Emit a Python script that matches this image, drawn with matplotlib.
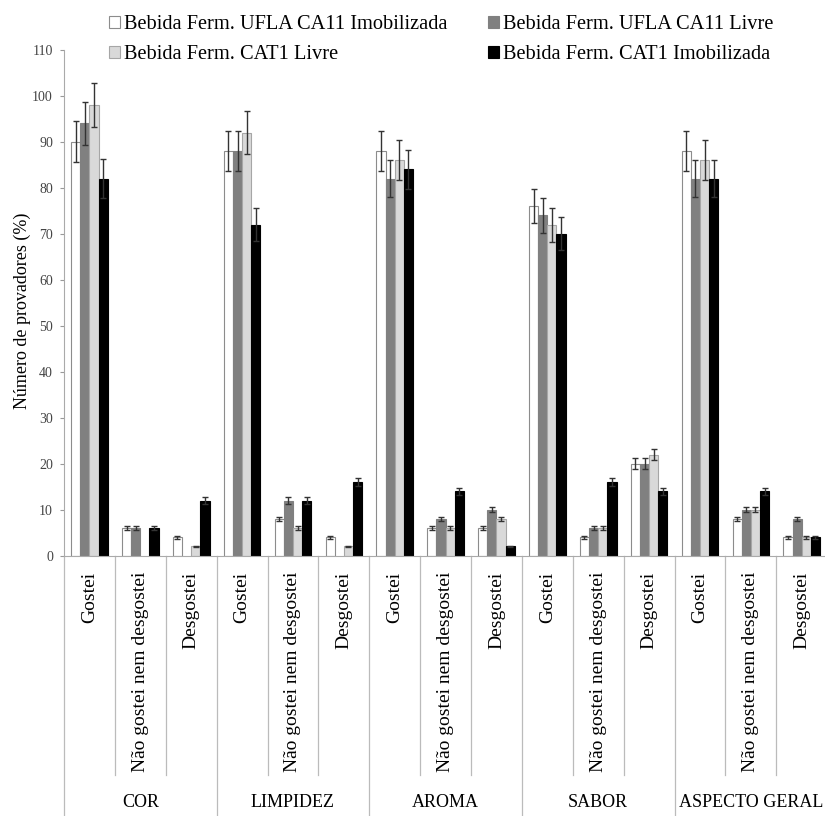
import matplotlib.pyplot as plt
import matplotlib.transforms as mtransforms
import numpy as np

plt.rcParams['font.family'] = ['Liberation Serif', 'DejaVu Serif']

groups = ["COR", "LIMPIDEZ", "AROMA", "SABOR", "ASPECTO GERAL"]
answers = ["Gostei", "Não gostei nem desgostei", "Desgostei"]

series = ["Bebida Ferm. UFLA CA11 Imobilizada", "Bebida Ferm. UFLA CA11 Livre",
          "Bebida Ferm. CAT1 Livre", "Bebida Ferm. CAT1 Imobilizada"]

# one value per category (group x answer), in order
ufla_imob = [90, 6, 4, 88, 8, 4, 88, 6, 6, 76, 4, 20, 88, 8, 4]
ufla_livre = [94, 6, 0, 88, 12, 0, 82, 8, 10, 74, 6, 20, 82, 10, 8]
cat1_livre = [98, 0, 2, 92, 6, 2, 86, 6, 8, 72, 6, 22, 86, 10, 4]
cat1_imob = [82, 6, 12, 72, 12, 16, 84, 14, 2, 70, 16, 14, 82, 14, 4]

err_ufla_imob = [4.5, 0.4, 0.3, 4.3, 0.5, 0.3, 4.3, 0.4, 0.4, 3.7, 0.3, 1.2, 4.3, 0.5, 0.3]
err_ufla_livre = [4.7, 0.4, 0, 4.3, 0.7, 0, 4.0, 0.5, 0.6, 3.8, 0.4, 1.2, 4.0, 0.6, 0.5]
err_cat1_livre = [4.8, 0, 0.2, 4.7, 0.4, 0.2, 4.3, 0.4, 0.5, 3.7, 0.4, 1.2, 4.3, 0.6, 0.3]
err_cat1_imob = [4.2, 0.4, 0.8, 3.6, 0.7, 0.8, 4.2, 0.8, 0.2, 3.6, 0.8, 0.8, 4.0, 0.8, 0.3]

values = [ufla_imob, ufla_livre, cat1_livre, cat1_imob]
errors = [err_ufla_imob, err_ufla_livre, err_cat1_livre, err_cat1_imob]
faces = ["white", "#808080", "#d9d9d9", "black"]
edges = ["#8c8c8c", "#808080", "#a6a6a6", "black"]

fig = plt.figure(figsize=(8.25, 8.16), dpi=100)
ax = fig.add_axes([0.0776, 0.319, 0.925, 0.62])

n = len(groups) * len(answers)
x = np.arange(n)
w = 0.18
bars = []
for i in range(4):
    pos = x + (i - 1.5) * w
    v = np.array(values[i], dtype=float)
    v[v == 0] = np.nan  # zero answers: no visible bar
    b = ax.bar(pos, v, w, color=faces[i], edgecolor=edges[i], linewidth=0.8,
               label=series[i], zorder=2)
    ax.errorbar(pos, v, yerr=errors[i], fmt='none', ecolor='#333333',
                elinewidth=1, capsize=2.2, capthick=1, zorder=3)
    bars.append(b)

ax.set_xlim(-0.5, n - 0.5)
ax.set_ylim(0, 110)
ax.set_yticks(range(0, 111, 10))
ax.tick_params(axis='y', labelsize=10, labelcolor='#444444', color='#999999', length=3, pad=5)
ax.set_ylabel("Número de provadores (%)", fontsize=13)
ax.yaxis.set_label_coords(-0.043, 0.485)
ax.set_xticks([])
for s in ["top", "right"]:
    ax.spines[s].set_visible(False)
ax.spines["left"].set_color('#aaaaaa')
ax.spines["bottom"].set_color('#aaaaaa')

trans = mtransforms.blended_transform_factory(ax.transData, ax.transAxes)
for k in range(n + 1):
    xb = k - 0.5
    depth = -0.514 if k % 3 == 0 else -0.433
    ax.plot([xb, xb], [0, depth], color='#bbbbbb', lw=0.9, transform=trans, clip_on=False)

for k in range(n):
    ax.text(x[k], -0.032, answers[k % 3], rotation=90, ha='center', va='top',
            fontsize=14, transform=trans)

for g, name in enumerate(groups):
    ax.text(g * 3 + 1, -0.488, name, ha='center', va='center', fontsize=13, transform=trans)

handles = [bars[0], bars[2], bars[1], bars[3]]
labels = [series[0], series[2], series[1], series[3]]
fig.legend(handles, labels, ncol=2, loc='upper center', bbox_to_anchor=(0.535, 1.004),
           frameon=False, fontsize=14.7, handlelength=0.55, handleheight=0.55,
           handletextpad=0.2, columnspacing=1.96, labelspacing=0.55)

fig.savefig("out.png", dpi=100)
